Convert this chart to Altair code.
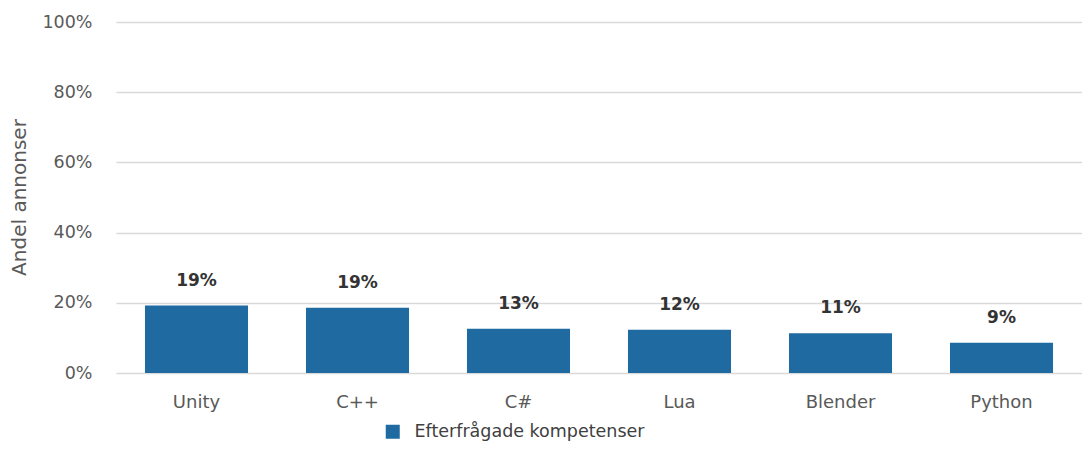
import altair as alt
import pandas as pd

categories = ["Unity", "C++", "C#", "Lua", "Blender", "Python"]
values = [0.192, 0.186, 0.126, 0.123, 0.113, 0.086]
series_name = "Efterfrågade kompetenser"
y_ticks = [0, 0.2, 0.4, 0.6, 0.8, 1.0]

df = pd.DataFrame({"cat": categories, "val": values, "series": [series_name] * len(categories)})

FONT = "DejaVu Sans"
BAR = "#1f6aa0"
GREY = "#595959"

x = alt.X("cat:N", sort=categories, title=None,
          scale=alt.Scale(paddingInner=0.36, paddingOuter=0.18),
          axis=alt.Axis(labelAngle=0, labelFontSize=18, labelColor=GREY, labelFont=FONT,
                        ticks=False, domain=False, labelPadding=20, grid=False))
y = alt.Y("val:Q", scale=alt.Scale(domain=[0, 1]), title="Andel annonser",
          axis=alt.Axis(values=y_ticks, format=".0%", labelFontSize=17.5, labelColor=GREY,
                        labelFont=FONT, labelPadding=24, ticks=False, domain=False,
                        gridColor="#d9d9d9", gridWidth=1.5,
                        titleFont=FONT, titleFontSize=20, titleFontWeight="normal",
                        titleColor=GREY, titleAngle=270, titleX=-97, titleY=175,
                        titleAlign="center", titleBaseline="middle"))

bars = alt.Chart(df).mark_bar(color=BAR).encode(
    x=x, y=y,
    color=alt.Color("series:N", scale=alt.Scale(range=[BAR]),
                    legend=alt.Legend(title=None, orient="none", legendX=268, legendY=401,
                                      symbolType="square", symbolSize=196, symbolStrokeWidth=0,
                                      labelFontSize=17.5, labelFont=FONT, labelColor="#404040",
                                      labelOffset=13, labelLimit=400, symbolOpacity=1,
                                      padding=0))
)
labels = alt.Chart(df).mark_text(dy=-25, baseline="middle", fontWeight="bold", fontSize=17,
                                 font=FONT, color="#333333").encode(
    x=alt.X("cat:N", sort=categories), y="val:Q", text=alt.Text("val:Q", format=".0%")
)

chart = (bars + labels).properties(
    width=966, height=351,
    autosize=alt.AutoSizeParams(type="none"),
    padding={"left": 108, "top": 14, "right": 0, "bottom": 69},
).configure_view(stroke=None)

chart.save("out.html", embed_options={"renderer": "svg", "actions": False})
